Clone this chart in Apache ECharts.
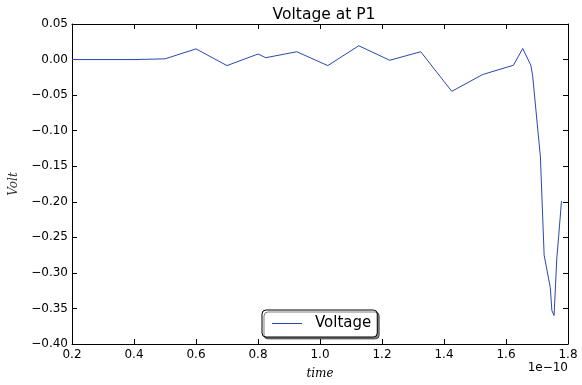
<!DOCTYPE html>
<html>
<head>
<meta charset="utf-8">
<script src="https://cdn.jsdelivr.net/npm/echarts@6/dist/echarts.min.js"></script>
<style>
  html, body { margin: 0; padding: 0; background: #fff; }
  #chart { width: 582px; height: 385px; }
</style>
</head>
<body>
<div id="chart"></div>
<script>
// time in units of 1e-10 s
const time = [0.2, 0.4, 0.5, 0.6, 0.7, 0.8, 0.825, 0.925, 1.025, 1.125, 1.225, 1.325,
  1.425, 1.525, 1.624, 1.654, 1.68, 1.686, 1.711, 1.723, 1.743, 1.748, 1.755,
  1.764, 1.77, 1.779]
const volt = [0.0, 0.0, 0.001, 0.015, -0.0085, 0.0078, 0.0026, 0.011, -0.0085, 0.0194,
  -0.001, 0.011, -0.0447, -0.021, -0.008, 0.0156, -0.008, -0.023, -0.137, -0.275,
  -0.321, -0.353, -0.36, -0.279, -0.248, -0.199]
const xTicks = [0.2, 0.4, 0.6, 0.8, 1.0, 1.2, 1.4, 1.6, 1.8]

const font = "DejaVu Sans"
const axisColor = "#000"
const minus = (s) => s.replace("-", "\u2212")

const chart = echarts.init(document.getElementById("chart"))

const frameAxis = {
  axisLine: { show: true, onZero: false, lineStyle: { color: axisColor, width: 1 } },
  axisLabel: { show: false },
  axisTick: { show: true, inside: true, length: 5, lineStyle: { color: axisColor } },
  splitLine: { show: false }
}

chart.setOption({
  animation: false,
  backgroundColor: "#fff",
  title: {
    text: "Voltage at P1",
    top: 2,
    left: 319,
    textAlign: "center",
    textStyle: { fontFamily: font, fontSize: 15.5, fontWeight: "normal", color: "#000" }
  },
  grid: { left: 70, right: 14, top: 24, bottom: 38 },
  legend: {
    data: ["Voltage"],
    left: 262,
    top: 310,
    padding: [6, 6, 6, 10],
    itemWidth: 30,
    itemHeight: 1,
    icon: "rect",
    backgroundColor: "#fff",
    borderColor: "#000",
    borderWidth: 1,
    borderRadius: 4,
    shadowColor: "rgba(0,0,0,0.5)",
    shadowBlur: 0,
    shadowOffsetX: 2,
    shadowOffsetY: 2,
    textStyle: { fontFamily: font, fontSize: 15, color: "#000", padding: [0, 0, 0, 8] }
  },
  xAxis: [
    Object.assign({}, frameAxis, {
      type: "value",
      min: 0.2,
      max: 1.8,
      interval: 0.2,
      name: "time",
      nameLocation: "middle",
      nameGap: 24,
      nameTextStyle: { fontFamily: "DejaVu Serif", fontStyle: "italic", fontSize: 12, color: "#000" },
      axisLabel: {
        fontFamily: font, fontSize: 12, color: "#000", margin: 5,
        formatter: (v) => xTicks.includes(Math.round(v * 10) / 10) ? v.toFixed(1) : ""
      }
    }),
    Object.assign({ type: "value", position: "top", min: 0.2, max: 1.8, interval: 0.2 }, frameAxis)
  ],
  yAxis: [
    Object.assign({}, frameAxis, {
      type: "value",
      min: -0.4,
      max: 0.05,
      interval: 0.05,
      name: "Volt",
      nameLocation: "middle",
      nameGap: 52,
      nameTextStyle: { fontFamily: "DejaVu Serif", fontStyle: "italic", fontSize: 12, color: "#333" },
      axisLabel: {
        fontFamily: font, fontSize: 12, color: "#000", margin: 4,
        formatter: (v) => minus(v.toFixed(2))
      }
    }),
    Object.assign({ type: "value", position: "right", min: -0.4, max: 0.05, interval: 0.05 }, frameAxis)
  ],
  graphic: [
    {
      type: "text",
      right: 14,
      top: 362,
      style: { text: "1e\u221210", font: "12px 'DejaVu Sans'", fill: "#000" }
    }
  ],
  series: [
    {
      name: "Voltage",
      type: "line",
      data: time.map((t, i) => [t, volt[i]]),
      showSymbol: false,
      symbol: "none",
      lineStyle: { color: "#2b48b0", width: 1 },
      itemStyle: { color: "#2b48b0" }
    }
  ]
})
</script>
</body>
</html>
